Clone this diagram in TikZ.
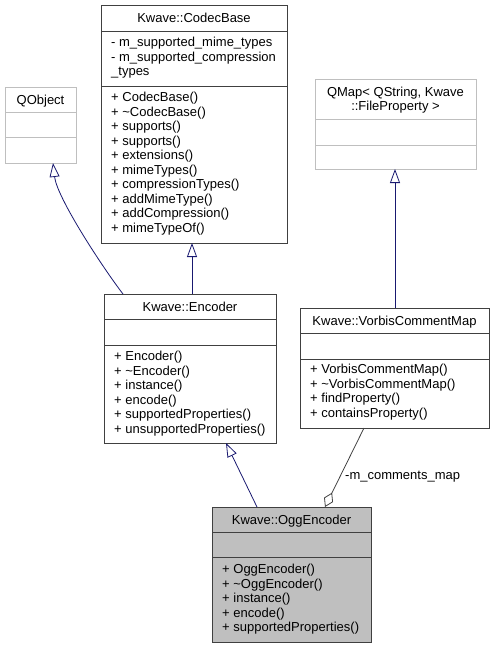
\documentclass[tikz,border=0pt]{standalone}
\usepackage{fontspec}
\setmainfont{Liberation Sans}
\usetikzlibrary{arrows.meta}
\definecolor{edgeblue}{HTML}{191970}
\definecolor{ogggray}{HTML}{BFBFBF}
\definecolor{framegray}{HTML}{404040}
\definecolor{extgray}{HTML}{BFBFBF}
\tikzset{
  classbox/.style={draw=framegray, line width=1pt, inner sep=0pt, outer sep=0pt, anchor=north west},
  extbox/.style={classbox, draw=extgray},
  title/.style={anchor=base, inner sep=0pt, font=\fontsize{13}{14.5}\selectfont},
  members/.style={anchor=north west, inner sep=0pt, align=left, font=\fontsize{13}{14.5}\selectfont},
  inherit/.style={edgeblue, line width=0.8pt, -{Triangle[open, length=14pt, width=10pt]}},
  aggregate/.style={framegray, line width=0.8pt, {Diamond[open, length=16pt, width=10pt]}-}
}
\begin{document}
\begin{tikzpicture}[x=1pt, y=-1pt]
  \useasboundingbox (0,0) rectangle (495,648);
  % Kwave::CodecBase
  \node[classbox, minimum width=186pt, minimum height=238pt] (codec) at (101,5) {};
  \draw[framegray, line width=1pt] (101,31) -- (287,31);
  \draw[framegray, line width=1pt] (101,86) -- (287,86);
  \node[title] (codect) at (194,22.5) {Kwave::CodecBase};
  \node[members] (codeca) at (111,37) {- m\_supported\_mime\_types\\- m\_supported\_compression\\\_types};
  \node[members] (codecm) at (111,92) {+ CodecBase()\\+ \textasciitilde CodecBase()\\+ supports()\\+ supports()\\+ extensions()\\+ mimeTypes()\\+ compressionTypes()\\+ addMimeType()\\+ addCompression()\\+ mimeTypeOf()};
  % QObject
  \node[extbox, minimum width=71pt, minimum height=76pt] (qobject) at (5,87) {};
  \draw[extgray, line width=1pt] (5,112) -- (76,112);
  \draw[extgray, line width=1pt] (5,137) -- (76,137);
  \node[title] (qobjectt) at (40.5,104) {QObject};
  % QMap< QString, Kwave::FileProperty >
  \node[extbox, minimum width=161pt, minimum height=90pt] (qmap) at (315,79) {};
  \draw[extgray, line width=1pt] (315,119) -- (476,119);
  \draw[extgray, line width=1pt] (315,145) -- (476,145);
  \node[title, align=center] (qmapt) at (395.5,110.5) {QMap< QString, Kwave\\::FileProperty >};
  % Kwave::Encoder
  \node[classbox, minimum width=172pt, minimum height=149pt] (encoder) at (104,294) {};
  \draw[framegray, line width=1pt] (104,319) -- (276,319);
  \draw[framegray, line width=1pt] (104,345) -- (276,345);
  \node[title] (encodert) at (190,311) {Kwave::Encoder};
  \node[members] (encoderm) at (114,351) {+ Encoder()\\+ \textasciitilde Encoder()\\+ instance()\\+ encode()\\+ supportedProperties()\\+ unsupportedProperties()};
  % Kwave::VorbisCommentMap
  \node[classbox, minimum width=189pt, minimum height=120pt] (vorbis) at (300,308) {};
  \draw[framegray, line width=1pt] (300,333) -- (489,333);
  \draw[framegray, line width=1pt] (300,359) -- (489,359);
  \node[title] (vorbist) at (394.5,325) {Kwave::VorbisCommentMap};
  \node[members] (vorbism) at (310,364) {+ VorbisCommentMap()\\+ \textasciitilde VorbisCommentMap()\\+ findProperty()\\+ containsProperty()};
  % Kwave::OggEncoder
  \node[classbox, fill=ogggray, minimum width=159pt, minimum height=135pt] (ogg) at (212,507) {};
  \draw[framegray, line width=1pt] (212,532) -- (371,532);
  \draw[framegray, line width=1pt] (212,557) -- (371,557);
  \node[title] (oggt) at (291.5,524) {Kwave::OggEncoder};
  \node[members] (oggm) at (222,564) {+ OggEncoder()\\+ \textasciitilde OggEncoder()\\+ instance()\\+ encode()\\+ supportedProperties()};
  % relations
  \draw[inherit] ([xshift=19pt]encoder.north west) .. controls (103,268) and (57,198) .. ([xshift=12.5pt]qobject.south);
  \draw[inherit] ([xshift=88pt]encoder.north west) -- ([xshift=91pt]codec.south west);
  \draw[inherit] ([xshift=95pt]vorbis.north west) -- ([xshift=80pt]qmap.south west);
  \draw[inherit] ([xshift=45pt]ogg.north west) -- ([xshift=122pt]encoder.south west);
  \draw[aggregate] ([xshift=113pt]ogg.north west) -- ([xshift=64pt]vorbis.south west);
  \node[anchor=base west, inner sep=0pt, font=\fontsize{13}{14.5}\selectfont] (aggl) at (345,479.5) {-m\_comments\_map};
\end{tikzpicture}
\end{document}
